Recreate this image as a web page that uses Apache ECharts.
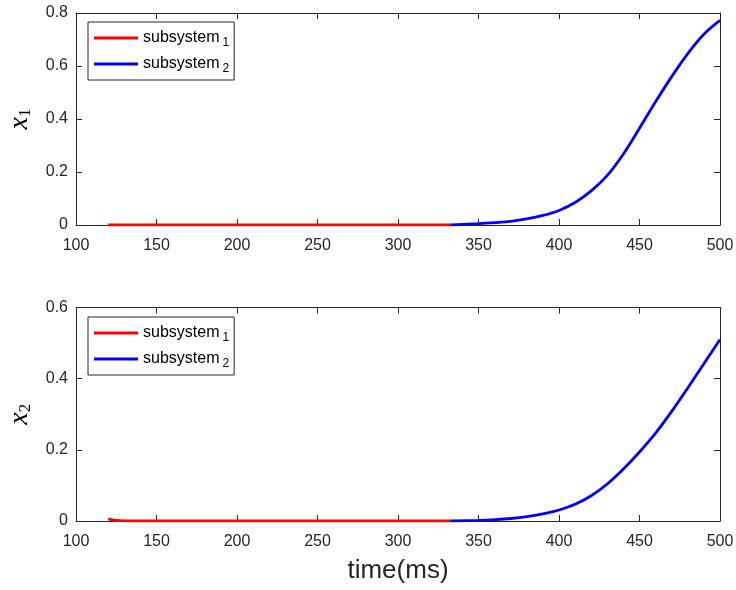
<!DOCTYPE html>
<html>
<head>
<meta charset="utf-8">
<title>x1 x2 subsystems</title>
<script src="https://cdn.jsdelivr.net/npm/echarts@6/dist/echarts.min.js"></script>
<style>
  html, body { margin: 0; padding: 0; background: #fff; }
  #chart { width: 736px; height: 590px; }
</style>
</head>
<body>
<div id="chart"></div>
<script>
// time axis ticks (ms)
const timeTicks = [100, 150, 200, 250, 300, 350, 400, 450, 500]

// x1: subsystem 1 (red) then subsystem 2 (blue)
const x1Sub1Time = [120, 333]
const x1Sub1Val = [0, 0]
const x1Sub2Time = [333, 350, 360, 370, 380, 390, 400, 410, 420, 430, 440, 450, 460, 470, 480, 490, 500]
const x1Sub2Val = [0, 0.005, 0.009, 0.014, 0.023, 0.036, 0.055, 0.085, 0.129, 0.187, 0.268, 0.365, 0.465, 0.56, 0.647, 0.72, 0.772]

// x2
const x2Sub1Time = [120, 122, 125, 130, 135, 333]
const x2Sub1Val = [0.006, 0.004, 0.002, 0.0005, 0, 0]
const x2Sub2Time = [333, 350, 360, 370, 380, 390, 400, 410, 420, 430, 440, 450, 460, 470, 480, 490, 500]
const x2Sub2Val = [0, 0.002, 0.004, 0.007, 0.012, 0.02, 0.031, 0.047, 0.071, 0.104, 0.146, 0.194, 0.247, 0.308, 0.374, 0.442, 0.51]

const seriesNames = ['subsystem1', 'subsystem2']
const axisColor = '#262626'
const labelFont = 'Liberation Sans, Arial, Helvetica, sans-serif'

const pairs = (ts, vs) => ts.map((t, i) => [t, vs[i]])

const xAxisBase = (gridIndex, pos, showLabel) => ({
  type: 'value',
  gridIndex,
  position: pos,
  min: timeTicks[0],
  max: timeTicks[timeTicks.length - 1],
  interval: 50,
  axisLine: { show: true, onZero: false, lineStyle: { color: axisColor, width: 1 } },
  axisTick: { show: true, inside: true, length: 6, lineStyle: { color: axisColor } },
  axisLabel: { show: showLabel, color: axisColor, fontSize: 16, fontFamily: labelFont, margin: 13 },
  splitLine: { show: false }
})

const yAxisBase = (gridIndex, pos, max, showLabel) => ({
  type: 'value',
  gridIndex,
  position: pos,
  min: 0,
  max,
  interval: 0.2,
  axisLine: { show: true, onZero: false, lineStyle: { color: axisColor, width: 1 } },
  axisTick: { show: true, inside: true, length: 6, lineStyle: { color: axisColor } },
  axisLabel: { show: showLabel, color: axisColor, fontSize: 16, fontFamily: labelFont, margin: 8 },
  splitLine: { show: false }
})

const yName = (sub) => ({
  name: '{x|x}{s|' + sub + '}',
  nameLocation: 'middle',
  nameRotate: 90,
  nameGap: 42,
  nameTextStyle: {
    rich: {
      x: { fontFamily: 'Liberation Serif, DejaVu Serif, serif', fontStyle: 'italic', fontSize: 28, color: '#000' },
      s: { fontFamily: 'Liberation Serif, DejaVu Serif, serif', fontSize: 17, color: '#000', padding: [12, 0, 0, 0] }
    }
  }
})

const legendBase = (top) => ({
  data: seriesNames,
  orient: 'vertical',
  left: 88,
  top,
  backgroundColor: '#fff',
  borderColor: axisColor,
  borderWidth: 1,
  borderRadius: 0,
  padding: [8, 5, 5, 6],
  itemGap: 7,
  itemWidth: 44,
  itemHeight: 3,
  icon: 'rect',
  selectedMode: false,
  formatter: (name) => '{a|subsystem}{b|' + name.slice(-1) + '}',
  textStyle: {
    color: '#000',
    fontFamily: labelFont,
    fontSize: 16,
    rich: {
      a: { fontFamily: labelFont, fontSize: 16, color: '#000', lineHeight: 20 },
      b: { fontFamily: labelFont, fontSize: 12, color: '#000', padding: [10, 0, 0, 3] }
    }
  }
})

const lineSeries = (name, color, xi, yi, data) => ({
  name,
  type: 'line',
  xAxisIndex: xi,
  yAxisIndex: yi,
  data,
  smooth: 0.35,
  showSymbol: false,
  symbol: 'none',
  color,
  lineStyle: { color, width: 2.8 },
  animation: false
})

const chart = echarts.init(document.getElementById('chart'))

chart.setOption({
  animation: false,
  backgroundColor: '#fff',
  grid: [
    { left: 76, top: 13, width: 644, height: 212, containLabel: false, outerBoundsMode: 'none' },
    { left: 76, top: 307.5, width: 644, height: 213.5, containLabel: false, outerBoundsMode: 'none' }
  ],
  legend: [legendBase(22), legendBase(317)],
  xAxis: [
    xAxisBase(0, 'bottom', true),
    xAxisBase(0, 'top', false),
    Object.assign(xAxisBase(1, 'bottom', true), {
      name: 'time(ms)',
      nameLocation: 'middle',
      nameGap: 37,
      nameTextStyle: { fontFamily: labelFont, fontSize: 26, color: axisColor }
    }),
    xAxisBase(1, 'top', false)
  ],
  yAxis: [
    Object.assign(yAxisBase(0, 'left', 0.8, true), yName('1')),
    yAxisBase(0, 'right', 0.8, false),
    Object.assign(yAxisBase(1, 'left', 0.6, true), yName('2')),
    yAxisBase(1, 'right', 0.6, false)
  ],
  series: [
    lineSeries(seriesNames[0], '#ff0000', 0, 0, pairs(x1Sub1Time, x1Sub1Val)),
    lineSeries(seriesNames[1], '#0000ff', 0, 0, pairs(x1Sub2Time, x1Sub2Val)),
    lineSeries(seriesNames[0], '#ff0000', 2, 2, pairs(x2Sub1Time, x2Sub1Val)),
    lineSeries(seriesNames[1], '#0000ff', 2, 2, pairs(x2Sub2Time, x2Sub2Val))
  ]
})

window.addEventListener('resize', () => chart.resize())
</script>
</body>
</html>
